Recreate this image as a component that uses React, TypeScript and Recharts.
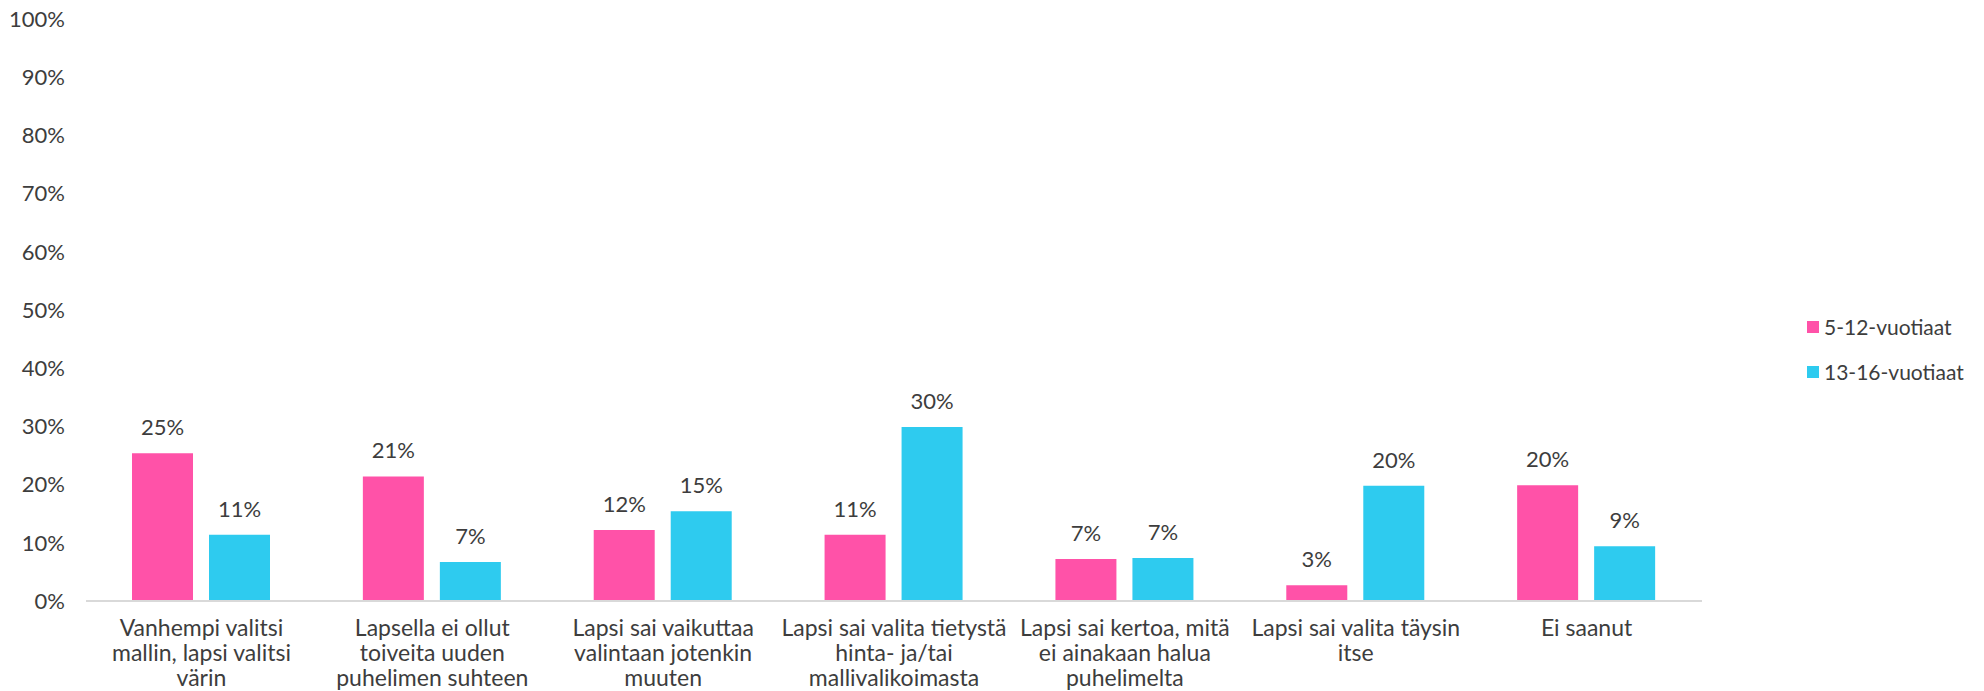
import React from 'react';
import { BarChart, Bar, XAxis, YAxis, LabelList } from 'recharts';

const categories = [
  'Vanhempi valitsi\nmallin, lapsi valitsi\nvärin',
  'Lapsella ei ollut\ntoiveita uuden\npuhelimen suhteen',
  'Lapsi sai vaikuttaa\nvalintaan jotenkin\nmuuten',
  'Lapsi sai valita tietystä\nhinta- ja/tai\nmallivalikoimasta',
  'Lapsi sai kertoa, mitä\nei ainakaan halua\npuhelimelta',
  'Lapsi sai valita täysin\nitse',
  'Ei saanut',
];
const series1Name = '5-12-vuotiaat';
const series2Name = '13-16-vuotiaat';
const series1 = [25.4, 21.4, 12.2, 11.4, 7.2, 2.7, 19.9];
const series2 = [11.4, 6.7, 15.4, 29.9, 7.4, 19.8, 9.4];
const yTicks = [0, 10, 20, 30, 40, 50, 60, 70, 80, 90, 100];

const PINK = '#FF52A8';
const CYAN = '#2ECBEF';
const TEXT = '#3D3D3D';
const FONT = 'Lato, "Noto Sans", sans-serif';

const data = categories.map((c, i) => ({ name: c, a: series1[i], b: series2[i] }));

const CategoryTick = (props: any) => {
  const { x, y, payload } = props;
  const lines = String(payload.value).split('\n');
  return (
    <g transform={`translate(${x},${y})`}>
      {lines.map((l, i) => (
        <text key={i} x={0} y={19 + i * 25} dy="0.35em" textAnchor="middle" fill={TEXT} fontSize={23} fontFamily={FONT}>
          {l}
        </text>
      ))}
    </g>
  );
};

export default function App() {
  return (
    <div style={{ position: 'absolute', left: 0, top: 0, width: 1984, height: 691, background: '#fff' }}>
      <BarChart
        width={1984}
        height={691}
        data={data}
        margin={{ top: 19, right: 282, bottom: 0, left: 0 }}
        barSize={61}
        barGap={16}
      >
        <XAxis
          dataKey="name"
          tick={<CategoryTick />}
          tickLine={false}
          axisLine={{ stroke: '#D9D9D9', strokeWidth: 2 }}
          interval={0}
          height={90}
        />
        <YAxis
          domain={[0, 100]}
          ticks={yTicks}
          tickFormatter={(v: number) => `${v}%`}
          axisLine={false}
          tickLine={false}
          tickSize={0}
          tickMargin={21}
          width={86}
          tick={{ fill: TEXT, fontSize: 22, fontFamily: FONT }}
        />
        <Bar dataKey="a" name={series1Name} fill={PINK} isAnimationActive={false}>
          <LabelList
            dataKey="a"
            position="top"
            offset={18}
            formatter={(v: number) => `${Math.round(v)}%`}
            style={{ fill: TEXT, fontSize: 22, fontFamily: FONT }}
          />
        </Bar>
        <Bar dataKey="b" name={series2Name} fill={CYAN} isAnimationActive={false}>
          <LabelList
            dataKey="b"
            position="top"
            offset={18}
            formatter={(v: number) => `${Math.round(v)}%`}
            style={{ fill: TEXT, fontSize: 22, fontFamily: FONT }}
          />
        </Bar>
      </BarChart>
      <div style={{ position: 'absolute', left: 1807, top: 304, fontFamily: FONT, fontSize: 21, color: TEXT }}>
        {[{ n: series1Name, c: PINK }, { n: series2Name, c: CYAN }].map((it, i) => (
          <div key={i} style={{ display: 'flex', alignItems: 'center', height: 45 }}>
            <div style={{ width: 12, height: 12, background: it.c, marginRight: 5 }} />
            <span>{it.n}</span>
          </div>
        ))}
      </div>
    </div>
  );
}
